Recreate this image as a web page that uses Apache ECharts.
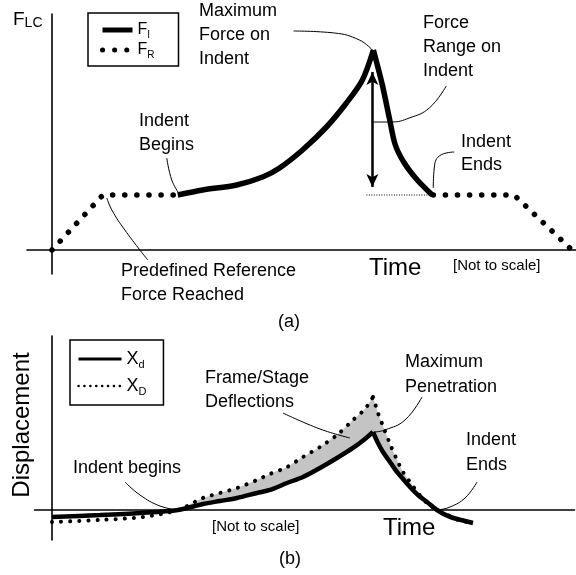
<!DOCTYPE html>
<html><head><meta charset="utf-8">
<script src="https://cdn.jsdelivr.net/npm/echarts@6/dist/echarts.min.js"></script>
<style>html,body{margin:0;padding:0;background:#fff}#c{width:576px;height:575px}</style>
</head><body><div id="c"></div>
<script>
// ---------- Panel (a): load-cell force F_LC vs time (schematic units) ----------
const FR_before = [[0,0],[10.2,27.5],[24.6,27.5]];
const FR_after  = [[76.4,27.5],[92.6,27.5],[104.2,0]];
const FI_rise = [[25.2,27.5],[30.2,30],[37,32.5],[42.2,36.5],[45.6,41],[50.2,50],[55,61.5],[59,73.5],[62.2,85],[64.4,100]];
const FI_fall = [[64.4,100],[66.2,82.5],[67.6,66],[68.8,52.5],[70.6,43.5],[73.2,35],[76.2,27.5]];
const rangeArrow = [[64.2,89],[64.2,31.5]];
const refLine = [[63,27.5],[76.2,27.5]];
const leadersA = [
  [[48.4,109.5],[56.6,108.5],[61.6,105],[64.2,100]],
  [[79,82],[75.6,71],[71.6,66],[68,64],[64.4,64]],
  [[23,46],[24,35],[25.4,28.5]],
  [[80.6,49],[77.6,47],[76.6,41],[76.4,31]],
  [[19.2,-5],[14.6,10],[12,20],[11,26]]
];
// ---------- Panel (b): displacement vs time ----------
const Xd_pre  = [[0,-5.8],[9.6,-4.2],[17.6,-2.5],[25.2,0]];
const XD_pre  = [[0,-10],[9.6,-8.3],[18.2,-5.8],[25.2,0]];
const Xd_rise = [[25.2,0],[30.2,5],[33.6,7.5],[37,10],[41,14.2],[43.6,16.7],[47,22.5],[50.2,27.5],[53.6,35],[57,43.3],[60.2,51.7],[62.6,59.2],[64.2,65]];
const XD_rise = [[25.2,0],[30.2,10],[33.6,14.2],[37,18.3],[41,25],[43.6,30],[47,35.8],[50.2,44.2],[53.6,52.5],[57,62.5],[60.2,75],[62.6,84.2],[64.2,94.2]];
const Xd_fall = [[64.2,65],[65.2,55.8],[66.2,48.3],[67.6,40],[69,31.7],[70.2,25.8],[71.6,19.2],[73.2,12.5],[75,6.7],[77,0]];
const XD_fall = [[64.2,94.2],[65.2,80.8],[66.2,70],[67.6,55],[69,41.7],[70.2,31.7],[71.6,23.3],[73.2,14.2],[75,5.8],[77,0]];
const Xd_post = [[77,0],[79.6,-5.8],[82.6,-9.2],[84.2,-10.8]];
const XD_post = [[77,0],[79.2,-4.2],[81.2,-8.3],[83,-10]];
const leadersB = [
  [[46.2,80.8],[53.6,67.5],[59.6,60]],
  [[74,94.2],[70.6,75],[66.6,66.7],[64.6,65]],
  [[85,23.3],[82.6,10],[79.6,2.5],[77.2,0]],
  [[14.6,23.3],[17.6,12.5],[21.6,3.3],[25.2,0]]
];

const FONT = 'Liberation Sans, Arial, Helvetica, sans-serif';
const K = '#000';

function axisPair(gi, xmin, xmax, ymin, ymax){
  const common = {axisTick:{show:false}, axisLabel:{show:false}, splitLine:{show:false},
                  axisLine:{show:true, onZero:true, lineStyle:{color:K, width:1.6}}};
  return [
    Object.assign({type:'value', gridIndex:gi, min:xmin, max:xmax}, common),
    Object.assign({type:'value', gridIndex:gi, min:ymin, max:ymax}, common)
  ];
}
const A = axisPair(0,-5,105,-12,118);
const B = axisPair(1,-3.5,104.5,-25,145);

function line(name, data, gi, style, smooth, z){
  return {type:'line', name:name, data:data, xAxisIndex:gi, yAxisIndex:gi, symbol:'none',
    smooth:smooth||false, silent:true, animation:false, z:z||3,
    itemStyle:{color:K, opacity:0},
    lineStyle:Object.assign({color:K}, style)};
}
const dotsBig = {width:5.5, type:[0.1,12], cap:'round'};
const dotsB = {width:4, type:[0.1,9], cap:'round'};
const leaderStyle = {width:1};

const series = [
  line('FR', FR_before, 0, dotsBig),
  line('FR', FR_after, 0, dotsBig),
  line('FI', FI_rise, 0, {width:5.5}, 0.3),
  line('FI', FI_fall, 0, {width:5.5}, 0.3),
  Object.assign(line('', refLine, 0, {width:1, type:[1,1.5]}), {
    markLine:{silent:true, animation:false, symbol:['arrow','arrow'], symbolSize:[9,13],
      label:{show:false}, lineStyle:{color:K, width:2.5, type:'solid'},
      data:[[{coord:rangeArrow[0]},{coord:rangeArrow[1]}]]}
  })
];
leadersA.forEach(d => series.push(line('', d, 0, leaderStyle, 0.45, 2)));

series.push({
  type:'custom', xAxisIndex:1, yAxisIndex:1, data:[[0,0]], silent:true, animation:false, z:1,
  renderItem:function(params, api){
    const top = XD_rise.concat(XD_fall.slice(1));
    const bot = Xd_rise.concat(Xd_fall.slice(1)).reverse();
    const pts = top.concat(bot).map(p => api.coord(p));
    return {type:'polygon', shape:{points:pts}, style:{fill:'#c4c4c4'}};
  }
});
series.push(line('Xd', Xd_pre.concat(Xd_rise.slice(1)), 1, {width:4.5}, 0.3));
series.push(line('Xd', Xd_fall.concat(Xd_post.slice(1)), 1, {width:4.5}, 0.3));
series.push(line('XD', XD_pre.concat(XD_rise.slice(1)), 1, dotsB, 0.3));
series.push(line('XD', XD_fall.concat(XD_post.slice(1)), 1, dotsB, 0.3));
leadersB.forEach(d => series.push(line('', d, 1, leaderStyle, 0.45, 2)));

function subFmt(name){ return '{m|' + name[0] + '}{s|' + name.slice(1) + '}'; }

function txt(text, x, y, size, opts){
  return Object.assign({type:'text', x:x, y:y, silent:true, style:Object.assign({
    text:text, fontSize:size, fontFamily:FONT, fill:K, align:'left', verticalAlign:'top', lineHeight:24
  }, opts||{})});
}
const graphics = [
  {type:'text', x:13, y:8.5, silent:true, style:{text:'{m|F}{s|LC}', fill:K, align:'left', verticalAlign:'top',
    rich:{m:{fontSize:19, fontFamily:FONT, lineHeight:22}, s:{fontSize:14, fontFamily:FONT, lineHeight:14, verticalAlign:'bottom'}}}},
  txt('Maximum\nForce on\nIndent', 199, -0.5, 18),
  txt('Force\nRange on\nIndent', 423, 11, 18),
  txt('Indent\nBegins', 139, 109, 18),
  txt('Indent\nEnds', 461, 131, 18, {lineHeight:23}),
  txt('Predefined Reference\nForce Reached', 121, 259.5, 18),
  txt('Time', 369, 268.5, 24, {verticalAlign:'middle'}),
  txt('[Not to scale]', 453, 265.5, 15, {verticalAlign:'middle'}),
  txt('(a)', 289, 322, 18, {verticalAlign:'middle', align:'center'}),
  Object.assign(txt('Displacement', 0, 0, 24, {verticalAlign:'middle', align:'center'}), {x:22, y:425, rotation:Math.PI/2}),
  txt('Frame/Stage\nDeflections', 205, 366, 18),
  txt('Maximum\nPenetration', 405, 349.5, 18, {lineHeight:25}),
  txt('Indent\nEnds', 466, 427.5, 18, {lineHeight:25}),
  txt('Indent begins', 73, 468.5, 18, {verticalAlign:'middle'}),
  txt('[Not to scale]', 212, 527, 15, {verticalAlign:'middle'}),
  txt('Time', 383, 528.5, 24, {verticalAlign:'middle'}),
  txt('(b)', 290, 559, 18, {verticalAlign:'middle', align:'center'})
];

const option = {
  animation:false,
  backgroundColor:'#fff',
  grid:[
    {left:27, top:14, width:550, height:260},
    {left:34.5, top:336, width:540, height:204}
  ],
  xAxis:[A[0], B[0]],
  yAxis:[A[1], B[1]],
  legend:[
    {left:88, top:13, orient:'vertical', padding:[9,24,6,12], itemGap:2, itemWidth:30, itemHeight:12,
     borderColor:K, borderWidth:1.5, selectedMode:false, formatter:subFmt,
     itemStyle:{opacity:0},
     textStyle:{color:K, rich:{m:{fontSize:16, fontFamily:FONT, lineHeight:20}, s:{fontSize:10, fontFamily:FONT, lineHeight:11, verticalAlign:'bottom'}}},
     data:[{name:'FI', itemStyle:{opacity:0}, lineStyle:{width:5, type:'solid', opacity:1}},
           {name:'FR', itemStyle:{opacity:0}, lineStyle:{width:5, type:[0.1,12], cap:'round', opacity:1}}]},
    {left:70, top:340, orient:'vertical', padding:[10,17,8,7], itemGap:7, itemWidth:43, itemHeight:12,
     borderColor:K, borderWidth:1.5, selectedMode:false, formatter:subFmt,
     itemStyle:{opacity:0},
     textStyle:{color:K, rich:{m:{fontSize:18, fontFamily:FONT, lineHeight:22}, s:{fontSize:11, fontFamily:FONT, lineHeight:12, verticalAlign:'bottom'}}},
     data:[{name:'Xd', itemStyle:{opacity:0}, lineStyle:{width:3, type:'solid', opacity:1}},
           {name:'XD', itemStyle:{opacity:0}, lineStyle:{width:2.5, type:[0.1,5.8], cap:'round', opacity:1}}]}
  ],
  graphic:graphics,
  series:series
};
const chart = echarts.init(document.getElementById('c'), null, {renderer:'canvas'});
chart.setOption(option);
</script></body></html>
